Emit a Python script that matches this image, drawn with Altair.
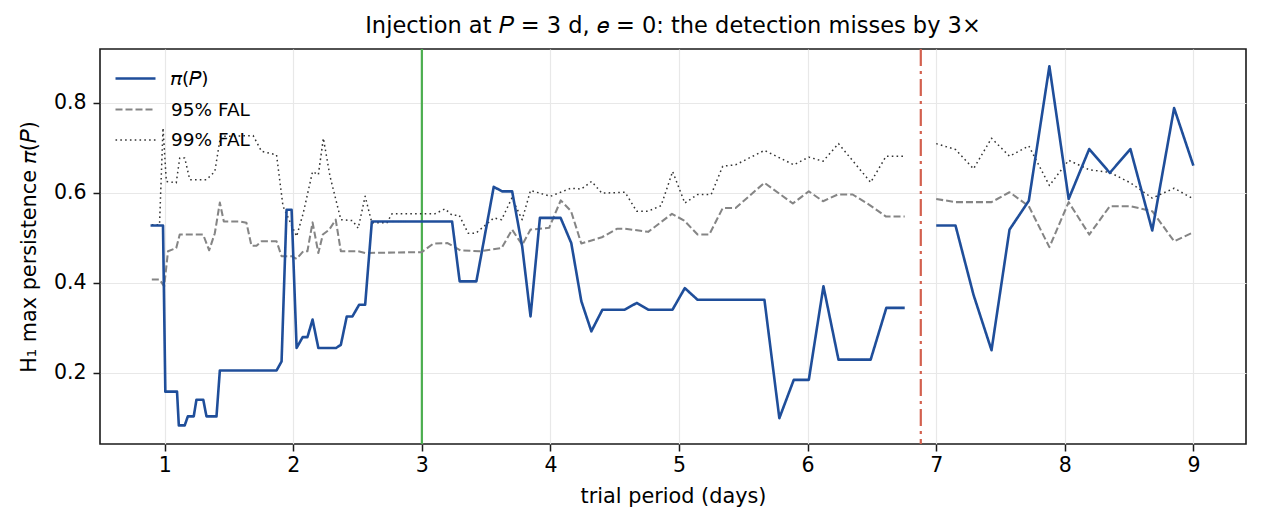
import altair as alt
import pandas as pd

# Trial periods (days) and max H1 persistence, left of the gap
period_pi_a = [0.89, 0.987, 1.005, 1.096, 1.11, 1.156, 1.18, 1.226, 1.247, 1.30, 1.325, 1.403,
               1.429, 1.87, 1.909, 1.948, 1.987, 2.026, 2.073, 2.11, 2.15, 2.195, 2.333, 2.37,
               2.416, 2.46, 2.512, 2.559, 2.611, 3.235, 3.294, 3.424, 3.559, 3.624, 3.702, 3.78,
               3.845, 3.918, 4.079, 4.162, 4.24, 4.318, 4.404, 4.577, 4.671, 4.76, 4.949, 5.045,
               5.144, 5.664, 5.78, 5.892, 6.009, 6.123, 6.24, 6.49, 6.612, 6.755]
pi_a = [0.527, 0.527, 0.158, 0.158, 0.083, 0.083, 0.103, 0.103, 0.14, 0.14, 0.103, 0.103,
        0.205, 0.205, 0.225, 0.562, 0.562, 0.255, 0.279, 0.279, 0.318, 0.255, 0.255, 0.262,
        0.325, 0.325, 0.351, 0.351, 0.536, 0.536, 0.403, 0.403, 0.613, 0.603, 0.603, 0.481,
        0.325, 0.544, 0.544, 0.488, 0.359, 0.292, 0.34, 0.34, 0.355, 0.34, 0.34, 0.388,
        0.362, 0.362, 0.099, 0.184, 0.184, 0.392, 0.229, 0.229, 0.344, 0.344]

period_95_a = [0.90, 0.96, 0.996, 1.026, 1.09, 1.117, 1.299, 1.346, 1.39, 1.429, 1.46, 1.585,
               1.636, 1.675, 1.714, 1.753, 1.87, 1.909, 1.987, 2.026, 2.078, 2.11, 2.15, 2.195,
               2.23, 2.28, 2.33, 2.37, 2.5, 2.56, 3.0, 3.09, 3.2, 3.3, 3.45, 3.62, 3.702, 3.78,
               3.845, 3.99, 4.08, 4.16, 4.24, 4.40, 4.52, 4.58, 4.76, 4.945, 5.04, 5.144, 5.235,
               5.34, 5.44, 5.664, 5.885, 6.009, 6.12, 6.235, 6.35, 6.48, 6.61, 6.755]
fal95_a = [0.407, 0.407, 0.392, 0.47, 0.477, 0.507, 0.507, 0.472, 0.51, 0.578, 0.536, 0.536,
           0.533, 0.482, 0.482, 0.492, 0.492, 0.459, 0.459, 0.453, 0.47, 0.47, 0.534, 0.466,
           0.507, 0.518, 0.54, 0.47, 0.47, 0.466, 0.468, 0.487, 0.488, 0.472, 0.470, 0.477,
           0.518, 0.484, 0.518, 0.522, 0.583, 0.559, 0.487, 0.501, 0.52, 0.52, 0.513, 0.553,
           0.538, 0.507, 0.507, 0.566, 0.566, 0.622, 0.576, 0.603, 0.581, 0.596, 0.596, 0.573,
           0.547, 0.547]

period_99_a = [0.90, 0.96, 0.987, 1.013, 1.09, 1.117, 1.156, 1.195, 1.325, 1.39, 1.434, 1.688,
               1.753, 1.87, 1.92, 2.026, 2.078, 2.15, 2.195, 2.234, 2.286, 2.37, 2.46, 2.505,
               2.559, 2.611, 2.728, 2.767, 3.1, 3.18, 3.235, 3.29, 3.36, 3.42, 3.56, 3.62, 3.70,
               3.78, 3.845, 4.0, 4.16, 4.24, 4.32, 4.40, 4.58, 4.67, 4.76, 4.86, 4.95, 5.045,
               5.144, 5.25, 5.34, 5.44, 5.664, 5.892, 6.009, 6.12, 6.24, 6.49, 6.61, 6.755]
fal99_a = [0.529, 0.529, 0.744, 0.625, 0.622, 0.677, 0.677, 0.629, 0.629, 0.647, 0.725, 0.727,
           0.692, 0.684, 0.57, 0.503, 0.555, 0.647, 0.64, 0.721, 0.636, 0.54, 0.538, 0.521,
           0.592, 0.533, 0.533, 0.553, 0.553, 0.564, 0.55, 0.55, 0.51, 0.51, 0.544, 0.54, 0.588,
           0.54, 0.605, 0.592, 0.61, 0.608, 0.625, 0.599, 0.601, 0.559, 0.559, 0.571, 0.647,
           0.577, 0.596, 0.596, 0.659, 0.662, 0.694, 0.662, 0.679, 0.67, 0.709, 0.623, 0.681,
           0.681]

# Right of the gap: one shared period grid
period_b = [7.0, 7.15, 7.29, 7.43, 7.57, 7.72, 7.88, 8.03, 8.19, 8.35, 8.51, 8.68, 8.85, 9.0]
pi_b = [0.527, 0.527, 0.373, 0.25, 0.518, 0.582, 0.881, 0.586, 0.697, 0.644, 0.697, 0.516,
        0.788, 0.66]
fal95_b = [0.586, 0.579, 0.579, 0.579, 0.601, 0.57, 0.479, 0.579, 0.507, 0.57, 0.57, 0.559,
           0.492, 0.512]
fal99_b = [0.709, 0.696, 0.653, 0.721, 0.681, 0.704, 0.616, 0.672, 0.651, 0.645, 0.622, 0.588,
           0.61, 0.586]

injected_period = 3.0
detected_period = 6.88

series_names = ["𝜋(𝑃)", "95% FAL", "99% FAL"]
series_colors = ["#1f4e9a", "#858585", "#333333"]
series_dashes = [[1, 0], [7, 3], [1.6, 3.2]]
series_widths = [2.6, 1.5, 1.6]

FONT = "DejaVu Sans"


def frame(periods, values, name, seg):
    return pd.DataFrame({"period": periods, "value": values, "series": name, "seg": seg})


df = pd.concat([
    frame(period_99_a, fal99_a, series_names[2], "a"),
    frame(period_b, fal99_b, series_names[2], "b"),
    frame(period_95_a, fal95_a, series_names[1], "a"),
    frame(period_b, fal95_b, series_names[1], "b"),
    frame(period_pi_a, pi_a, series_names[0], "a"),
    frame(period_b, pi_b, series_names[0], "b"),
], ignore_index=True)

x_scale = alt.Scale(domain=[0.497, 9.409], nice=False, zero=False)
y_scale = alt.Scale(domain=[0.0416, 0.9193], nice=False, zero=False)

lines = alt.Chart(df).mark_line(strokeCap="butt", strokeJoin="round").encode(
    x=alt.X("period:Q", scale=x_scale,
            axis=alt.Axis(values=[1, 2, 3, 4, 5, 6, 7, 8, 9], format="d",
                          title="trial period (days)")),
    y=alt.Y("value:Q", scale=y_scale,
            axis=alt.Axis(values=[0.2, 0.4, 0.6, 0.8], format=".1f",
                          title="H₁ max persistence  𝜋(𝑃)")),
    color=alt.Color("series:N",
                    scale=alt.Scale(domain=series_names, range=series_colors),
                    legend=alt.Legend(title=None)),
    strokeDash=alt.StrokeDash("series:N",
                              scale=alt.Scale(domain=series_names, range=series_dashes),
                              legend=alt.Legend(title=None)),
    strokeWidth=alt.StrokeWidth("series:N",
                                scale=alt.Scale(domain=series_names, range=series_widths),
                                legend=None),
    detail="seg:N",
    order=alt.Order("period:Q"),
)

inj_rule = alt.Chart(pd.DataFrame({"period": [injected_period]})).mark_rule(
    color="#4cae4f", strokeWidth=2.2
).encode(x=alt.X("period:Q", scale=x_scale))

det_rule = alt.Chart(pd.DataFrame({"period": [detected_period]})).mark_rule(
    color="#d3604e", strokeWidth=2.2, strokeDash=[17, 5, 3, 5]
).encode(x=alt.X("period:Q", scale=x_scale))

chart = alt.layer(inj_rule, det_rule, lines).properties(
    width=1146,
    height=395,
    autosize=alt.AutoSizeParams(type="none"),
    padding={"left": 100, "top": 49, "right": 16, "bottom": 80},
    title=alt.TitleParams(
        "Injection at 𝑃 = 3 d, 𝑒 = 0: the detection misses by 3×",
        font=FONT, fontSize=22.5, fontWeight="normal", color="black",
        anchor="middle", offset=10,
    ),
).configure_view(
    stroke="#1a1a1a", strokeWidth=1.6
).configure_axis(
    labelFont=FONT, titleFont=FONT, labelFontSize=20.5, titleFontSize=20.8,
    titleFontWeight="normal", labelColor="black", titleColor="black",
    domain=False, tickColor="#1a1a1a", tickSize=7, tickWidth=1.5,
    grid=True, gridColor="#e8e8e8", gridWidth=1.2,
).configure_axisX(
    labelPadding=4, titlePadding=11,
).configure_axisY(
    labelPadding=7, titlePadding=14,
).configure_legend(
    orient="none", legendX=12, legendY=6, padding=2,
    labelFont=FONT, labelFontSize=18.5, labelColor="black", labelOffset=14,
    symbolType="stroke", symbolSize=1600, symbolStrokeWidth=2, rowPadding=-4,
)

chart.save("out.html", embed_options={"renderer": "svg", "actions": False})
